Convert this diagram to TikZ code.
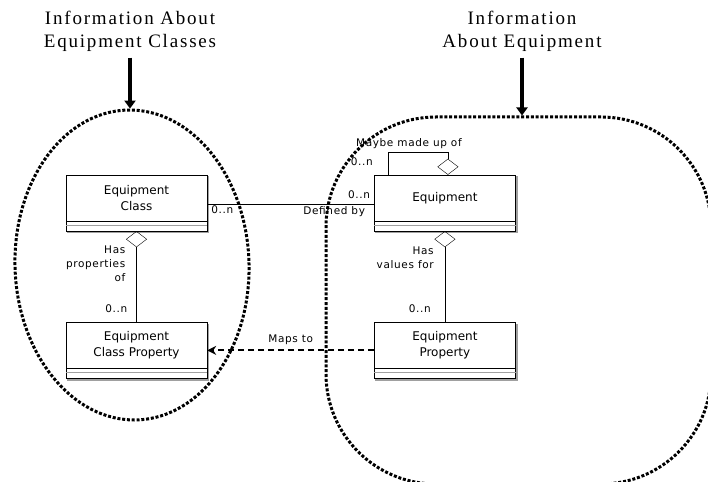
\documentclass[tikz,border=0pt]{standalone}
\usepackage{fontspec}
\setmainfont{Liberation Serif}
\setsansfont{DejaVu Sans}
\newfontfamily\titlefont[LetterSpace=9.5]{Liberation Serif}
\newfontfamily\lblfont[LetterSpace=6]{DejaVu Sans}
\usepackage{tikz}
\usetikzlibrary{arrows.meta,positioning,shapes.geometric}
\definecolor{boxshadow}{RGB}{160,160,160}
\tikzstyle{classbox} = [rectangle, draw=black, fill=white, minimum width=141pt, minimum height=46pt, align=center, inner sep=0pt, font=\sffamily\fontsize{12}{16}\selectfont]
\tikzstyle{lbl} = [inner sep=2pt, font=\lblfont\fontsize{10.5}{14}\selectfont]
\tikzstyle{title} = [align=center, font=\titlefont\fontsize{19}{23}\selectfont]
\tikzstyle{region} = [draw=black, line width=3pt, dash pattern=on 3pt off 1.8pt]
\tikzstyle{pointer} = [line width=3.5pt, -{Triangle[length=8pt,width=11pt]}]
\tikzstyle{agg} = [{Diamond[open,length=16pt,width=21pt]}-]
\tikzstyle{mapsto} = [line width=2pt, dash pattern=on 6pt off 4pt, -{Stealth[length=9pt,width=9pt]}]
\newcommand{\compart}[1]{
\draw[boxshadow, line width=1.5pt] ([xshift=1.2pt,yshift=-11.2pt]#1.south west) -- ([xshift=1.2pt,yshift=-11.2pt]#1.south east) -- ([xshift=1.2pt,yshift=-1.5pt]#1.north east);
\draw[fill=white] ([yshift=-10pt]#1.south west) rectangle (#1.south east);
\draw[boxshadow, line width=1pt] ([yshift=-4pt]#1.south west) -- ([yshift=-4pt]#1.south east);
}

\begin{document}
\begin{tikzpicture}[x=1pt,y=1pt]
\useasboundingbox (0,0) rectangle (708,481);
\node (cls) [classbox] at (136.5,283) {Equipment\\Class};
\node (eqp) [classbox, right=167pt of cls] {Equipment};
\node (clsprop) [classbox, below=101pt of cls] {Equipment\\Class Property};
\node (eqprop) [classbox, below=101pt of eqp] {Equipment\\Property};
\compart{cls}
\compart{eqp}
\compart{clsprop}
\compart{eqprop}
\draw ([yshift=-6pt]cls.east) -- node[lbl, anchor=north west, pos=0, xshift=2pt] (m1) {0..n}
  node[lbl, anchor=north east, pos=1, xshift=-7pt] (defby) {Defined by}
  node[lbl, anchor=south east, pos=1, xshift=-2pt, yshift=3pt] (m2) {0..n} ([yshift=-6pt]eqp.west);
\draw[agg] ([xshift=3pt]eqp.north) -- ++(0,23) -- node[lbl, above, xshift=-9pt, yshift=1pt] (self) {Maybe made up of} ++(-60,0)
  -- node[lbl, left, pos=0.45, xshift=-13pt] (m3) {0..n} ([xshift=-57pt]eqp.north);
\draw[agg] ([yshift=-10pt]cls.south) -- node[lbl, left, align=right, pos=0.36, xshift=-9pt] (hasprop) {Has\\properties\\of}
  node[lbl, left, pos=0.85, xshift=-7pt] (m4) {0..n} (clsprop.north);
\draw[agg] ([yshift=-10pt]eqp.south) -- node[lbl, left, align=right, pos=0.29, xshift=-9pt] (hasval) {Has\\values for}
  node[lbl, left, pos=0.85, xshift=-12pt] (m5) {0..n} (eqprop.north);
\draw[mapsto] ([yshift=-5pt]eqprop.west) -- node[lbl, above, yshift=3pt] (maps) {Maps to} ([yshift=-5pt]clsprop.east);
\node (clsregion) [region, ellipse, minimum width=234pt, minimum height=310pt, rotate=2] at (132,216) {};
\node (eqpregion) [region, rectangle, rounded corners=110pt, minimum width=385pt, minimum height=367pt] at (518.5,180.5) {};
\node (clstitle) [title] at (130,450) {Information About\\Equipment Classes};
\node (eqptitle) [title] at (522,450) {Information\\About Equipment};
\draw[pointer] ([yshift=-3pt]clstitle.south) -- (clstitle.south |- clsregion.north);
\draw[pointer] ([yshift=-3pt]eqptitle.south) -- (eqptitle.south |- eqpregion.north);
\end{tikzpicture}
\end{document}
